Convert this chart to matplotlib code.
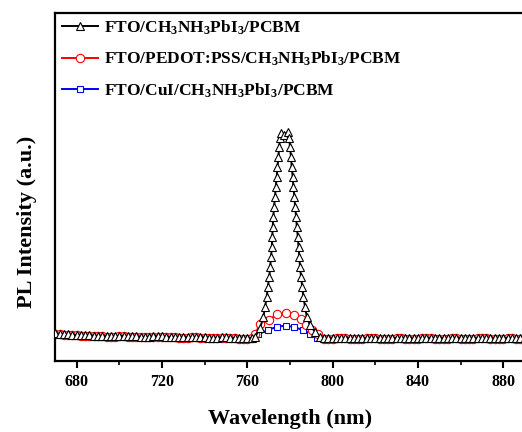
import matplotlib
matplotlib.use('Agg')
import matplotlib.pyplot as plt
import numpy as np

plt.rcParams['font.family'] = 'Liberation Serif'
plt.rcParams['font.weight'] = 'bold'
plt.rcParams['mathtext.fontset'] = 'custom'
plt.rcParams['mathtext.rm'] = 'Liberation Serif:bold'
plt.rcParams['mathtext.bf'] = 'Liberation Serif:bold'
plt.rcParams['mathtext.it'] = 'Liberation Serif:bold'
plt.rcParams['mathtext.default'] = 'bf'

# baseline wavelength grid (nm), either side of the emission peak
wl_left = [670, 672, 674, 676, 678, 680, 682, 684, 686, 688, 690, 692, 694, 696, 698,
           700, 702, 704, 706, 708, 710, 712, 714, 716, 718, 720, 722, 724, 726, 728,
           730, 732, 734, 736, 738, 740, 742, 744, 746, 748, 750, 752, 754, 756, 758,
           760, 762]
wl_right = [796, 798, 800, 802, 804, 806, 808, 810, 812, 814, 816, 818, 820, 822, 824,
            826, 828, 830, 832, 834, 836, 838, 840, 842, 844, 846, 848, 850, 852, 854,
            856, 858, 860, 862, 864, 866, 868, 870, 872, 874, 876, 878, 880, 882, 884,
            886, 888, 890]

# FTO/CH3NH3PbI3/PCBM
black_left = [28, 27.5, 27, 27, 26.5, 26.5, 26, 26, 26, 25.5, 25.5, 25.5, 25, 25, 25,
              25.5, 25.5, 25, 25, 25, 24.5, 24.5, 24.5, 25, 25, 25, 24.5, 24.5, 24.5, 24,
              24, 24, 24.5, 24.5, 24, 24, 23.5, 23.5, 23.5, 24, 24, 23.5, 23.5, 23, 23,
              23, 23.5]
black_peak_wl = [763.6, 766.0, 767.5, 768.3, 769.1, 769.6, 770.3, 770.7, 771.1, 771.5,
                 771.7, 771.9, 772.2, 772.5, 773.0, 773.3, 773.8, 774.1, 774.6, 774.9,
                 775.4, 775.8, 777.0, 779.0, 779.7, 780.0, 780.5, 780.8, 781.3, 781.6,
                 782.1, 782.4, 782.9, 783.2, 783.7, 784.0, 784.4, 784.7, 785.2, 785.8,
                 786.3, 787.1, 787.9, 789.4, 791.8, 794.1]
black_peak = [24, 33, 44, 54, 64, 74, 84, 94, 104, 114,
              124, 134, 144, 154, 164, 174, 184, 194, 204, 214,
              223, 228, 226, 229, 223, 214, 204, 194, 184, 174,
              164, 154, 144, 134, 124, 114, 104, 94, 84, 74,
              64, 54, 44, 36, 29, 24]
black_right = [23, 23, 23, 23.5, 23.5, 23.5, 23, 23, 23, 23, 23.5, 23.5, 23.5, 23, 23,
               23, 23, 23.5, 23.5, 23, 23, 23, 23, 23.5, 23.5, 23.5, 23, 23, 23, 23,
               23.5, 23.5, 23, 23, 23, 23, 23.5, 23.5, 23.5, 23, 23, 23, 23, 23.5, 23.5,
               23, 23, 23]

# FTO/PEDOT:PSS/CH3NH3PbI3/PCBM
red_left = [27.5, 27, 26.5, 26.5, 26, 26, 25.5, 25.5, 25.5, 25, 25, 25, 24.5, 24.5, 24.5,
            25, 25, 24.5, 24.5, 24.5, 24, 24, 24, 24.5, 24.5, 24.5, 24, 24, 24, 23.5,
            23.5, 23.5, 24, 24, 23.5, 23.5, 23, 23, 23, 23.5, 23.5, 23, 23, 22.5, 22.5,
            22.5, 23]
red_peak_wl = [763.6, 766.0, 770.2, 773.9, 778.2, 781.9, 785.2, 787.5, 790.4, 793.2]
red_peak = [27, 37, 41, 47, 48, 46, 42, 36, 31, 27]
red_right = [22.5, 22.5, 22.5, 23, 23, 23, 22.5, 22.5, 22.5, 22.5, 23, 23, 23, 22.5, 22.5,
             22.5, 22.5, 23, 23, 22.5, 22.5, 22.5, 22.5, 23, 23, 23, 22.5, 22.5, 22.5, 22.5,
             23, 23, 22.5, 22.5, 22.5, 22.5, 23, 23, 23, 22.5, 22.5, 22.5, 22.5, 23, 23,
             22.5, 22.5, 22.5]

# FTO/CuI/CH3NH3PbI3/PCBM
blue_left = [27.5, 27, 26.5, 26.5, 26, 26, 25.5, 25.5, 25.5, 25, 25, 25, 24.5, 24.5, 24.5,
             25, 25, 24.5, 24.5, 24.5, 24, 24, 24, 24.5, 24.5, 24.5, 24, 24, 24, 23.5,
             23.5, 23.5, 24, 24, 23.5, 23.5, 23, 23, 23, 23.5, 23.5, 23, 23, 22.5, 22.5,
             22.5, 23]
blue_peak_wl = [765.1, 769.7, 773.9, 778.2, 782.1, 786.1, 789.4, 792.7]
blue_peak = [27, 31, 34.5, 35.5, 34, 31, 27, 23.5]
blue_right = [22.5, 22.5, 22.5, 23, 23, 23, 22.5, 22.5, 22.5, 22.5, 23, 23, 23, 22.5, 22.5,
              22.5, 22.5, 23, 23, 22.5, 22.5, 22.5, 22.5, 23, 23, 23, 22.5, 22.5, 22.5, 22.5,
              23, 23, 22.5, 22.5, 22.5, 22.5, 23, 23, 23, 22.5, 22.5, 22.5, 22.5, 23, 23,
              22.5, 22.5, 22.5]

labels = [r'FTO/CH$_3$NH$_3$PbI$_3$/PCBM',
          r'FTO/PEDOT:PSS/CH$_3$NH$_3$PbI$_3$/PCBM',
          r'FTO/CuI/CH$_3$NH$_3$PbI$_3$/PCBM']

fig = plt.figure(figsize=(5.22, 4.32), dpi=100)
ax = fig.add_axes([0.106, 0.164, 0.899, 0.806])

series = [
    (black_left, black_peak_wl, black_peak, black_right, 'black', '^', 5.5),
    (red_left, red_peak_wl, red_peak, red_right, 'red', 'o', 6),
    (blue_left, blue_peak_wl, blue_peak, blue_right, 'blue', 's', 5),
]
# draw blue and red first so the black triangles sit on top of the baseline
for i in [2, 1, 0]:
    left, pwl, pint, right, col, mk, ms = series[i]
    x = np.concatenate([wl_left, pwl, wl_right])
    y = np.concatenate([left, pint, right])
    ax.plot(x, y, color=col, lw=1.4, marker=mk, ms=ms, mfc='white', mec=col,
            mew=0.8, label=labels[i], zorder=3 - i)

handles, labs = ax.get_legend_handles_labels()
order = [labs.index(l) for l in labels]
ax.legend([handles[k] for k in order], labels, loc='upper left',
          bbox_to_anchor=(0.014, 0.984), borderpad=0, borderaxespad=0,
          frameon=False, fontsize=12.5, handlelength=2.1, handletextpad=0.3,
          labelspacing=0.75)

ax.set_xlim(670, 890)
ax.set_ylim(0, 348)
ax.set_xticks([680, 720, 760, 800, 840, 880])
ax.set_xticks([700, 740, 780, 820, 860], minor=True)
ax.set_yticks([])
ax.tick_params(axis='x', which='major', direction='out', length=5, width=1.5,
               labelsize=11.5, pad=4)
ax.tick_params(axis='x', which='minor', direction='out', length=3, width=1.2)
for s in ax.spines.values():
    s.set_linewidth(1.6)

ax.set_xlabel('Wavelength (nm)', fontsize=16, fontweight='bold', labelpad=14)
ax.set_ylabel('PL Intensity (a.u.)', fontsize=16, fontweight='bold')
ax.yaxis.set_label_coords(-0.038, 0.4)

fig.savefig('out.png', dpi=100)
